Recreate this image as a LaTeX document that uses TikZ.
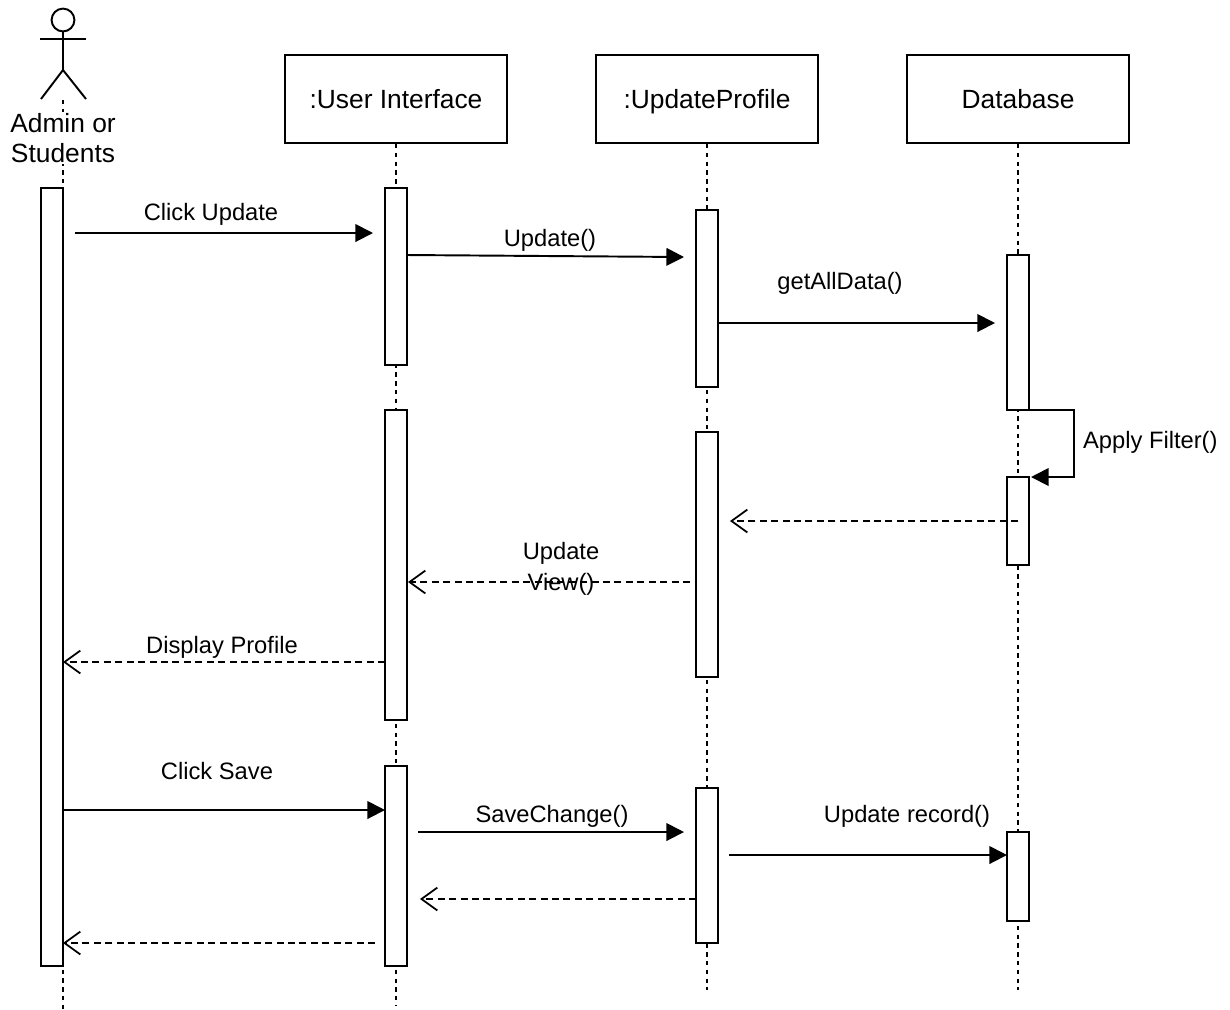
\documentclass[tikz,border=0pt]{standalone}
\usepackage{fontspec}
\setmainfont{Liberation Sans}
\usetikzlibrary{arrows.meta}

\tikzset{
  head/.style={draw, line width=1.1pt, minimum width=4.44cm, minimum height=1.76cm,
    text height=2.2ex, text depth=0.2ex, font=\fontsize{15}{18}\selectfont},
  life/.style={line width=0.9pt, dash pattern=on 2.5pt off 2.5pt},
  bar/.style={draw, line width=1.1pt, fill=white},
  call/.style={line width=1.1pt, -{Triangle[length=10pt,width=10pt]}},
  reply/.style={line width=0.9pt, dash pattern=on 4pt off 2.5pt,
    -{Straight Barb[length=9pt,width=13pt,line width=1pt]}},
  lbl/.style={font=\fontsize{13.5}{16}\selectfont, inner sep=1pt},
}

\begin{document}
\begin{tikzpicture}[x=0.02cm, y=-0.02cm]
		\useasboundingbox (0,0) rectangle (1230,1009);

		% actor
		\begin{scope}[line width=1.1pt]
			\draw (63,20) circle[radius=6.5pt];
			\draw (63,32) -- (63,70);
			\draw (40,39) -- (86,39);
			\draw (63,70) -- (41,99);
			\draw (63,70) -- (86,99);
		\end{scope}

		% lifelines
		\coordinate (actend) at (63,1009);
		\coordinate (uiend) at (396,1005);
		\coordinate (upend) at (707,990);
		\coordinate (dbend) at (1018,990);
		\coordinate (acttop) at (63,100);

		\node[head] (ui) at (396,99) {:User Interface};
		\node[head] (up) at (707,99) {:UpdateProfile};
		\node[head] (db) at (1018,99) {Database};

		\draw[life] (acttop) -- (actend);
		\draw[life] (ui.south) -- (uiend);
		\draw[life] (up.south) -- (upend);
		\draw[life] (db.south) -- (dbend);

		\node[fill=white, align=center, inner sep=1pt, font=\fontsize{15}{17}\selectfont]
			(actor) at (63,138) {Admin or\\Students};

		% activation bars
		\draw[bar] (41,188) rectangle (63,966);
		\draw[bar] (385,188) rectangle (407,365);
		\draw[bar] (385,410) rectangle (407,720);
		\draw[bar] (385,766) rectangle (407,966);
		\draw[bar] (696,210) rectangle (718,387);
		\draw[bar] (696,432) rectangle (718,677);
		\draw[bar] (696,788) rectangle (718,943);
		\draw[bar] (1007,255) rectangle (1029,410);
		\draw[bar] (1007,477) rectangle (1029,565);
		\draw[bar] (1007,832) rectangle (1029,921);

		% message ends
		\coordinate (m1a) at (75,233);    \coordinate (m1b) at (373,233);
		\coordinate (m2a) at (407,255);   \coordinate (m2b) at (684,257);
		\coordinate (m3a) at (718,323);   \coordinate (m3b) at (995,323);
		\coordinate (s1) at (1029,410);   \coordinate (s2) at (1074,410);
		\coordinate (s3) at (1074,477);   \coordinate (s4) at (1031,477);
		\coordinate (r1a) at (1018,521);  \coordinate (r1b) at (730,521);
		\coordinate (r2a) at (690,582);   \coordinate (r2b) at (408,582);
		\coordinate (r3a) at (385,662);   \coordinate (r3b) at (63,662);
		\coordinate (m4a) at (63,810);    \coordinate (m4b) at (385,810);
		\coordinate (m5a) at (418,832);   \coordinate (m5b) at (684,832);
		\coordinate (m6a) at (729,855);   \coordinate (m6b) at (1007,855);
		\coordinate (r4a) at (696,899);   \coordinate (r4b) at (420,899);
		\coordinate (r5a) at (375,943);   \coordinate (r5b) at (63,943);

		% messages
		\draw[call] (m1a) -- (m1b);
		\draw[call] (m2a) -- (m2b);
		\draw[call] (m3a) -- (m3b);
		\draw[call] (s1) -- (s2) -- (s3) -- (s4);
		\draw[reply] (r1a) -- (r1b);
		\draw[reply] (r2a) -- (r2b);
		\draw[reply] (r3a) -- (r3b);
		\draw[call] (m4a) -- (m4b);
		\draw[call] (m5a) -- (m5b);
		\draw[call] (m6a) -- (m6b);
		\draw[reply] (r4a) -- (r4b);
		\draw[reply] (r5a) -- (r5b);

		% labels
		\node[lbl] (l1) at (211,214) {Click Update};
		\node[lbl] (l2) at (550,240) {Update()};
		\node[lbl] (l3) at (840,283) {getAllData()};
		\node[lbl, anchor=west] (l4) at (1081,442) {Apply Filter()};
		\node[lbl, align=center, font=\fontsize{13.5}{17.5}\selectfont] (l5) at (561,569) {Update\\View()};
		\node[lbl] (l6) at (222,647) {Display Profile};
		\node[lbl] (l7) at (217,771) {Click Save};
		\node[lbl] (l8) at (552,816) {SaveChange()};
		\node[lbl] (l9) at (907,816) {Update record()};
	\end{tikzpicture}
\end{document}
